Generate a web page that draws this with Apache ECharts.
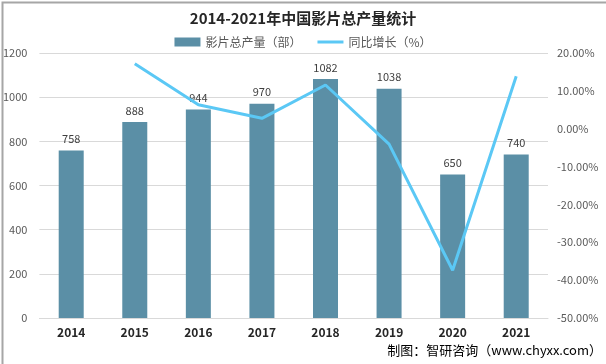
<!DOCTYPE html>
<html><head><meta charset="utf-8">
<script src="https://cdn.jsdelivr.net/npm/echarts@6/dist/echarts.min.js"></script>
<style>html,body{margin:0;padding:0;background:#fff}#c{width:606px;height:364px}</style>
</head><body><div id="c"></div>
<script>
var years = ['2014','2015','2016','2017','2018','2019','2020','2021'];
var output = [758, 888, 944, 970, 1082, 1038, 650, 740];
var growth = [null, 17.15, 6.31, 2.75, 11.55, -4.07, -37.38, 13.85];
var leftTicks = {min: 0, max: 1200, interval: 200};
var rightTicks = {min: -50, max: 20, interval: 10};
var F = '"Noto Sans CJK SC", "Microsoft YaHei", sans-serif';
var chart = echarts.init(document.getElementById('c'));
chart.setOption({
  animation: false,
  textStyle: {fontFamily: F},
  title: {text: '2014-2021年中国影片总产量统计', left: 'center', top: 6,
    textStyle: {fontSize: 15, fontWeight: 'bold', color: '#262626', fontFamily: F}},
  legend: {top: 31, left: 'center', itemGap: 16, itemWidth: 26, itemHeight: 9,
    textStyle: {fontSize: 12, color: '#595959', fontFamily: F},
    data: [{name: '影片总产量（部）', icon: 'rect'},
           {name: '同比增长（%）', icon: 'path://M0,0 L26,0 L26,3 L0,3 Z', itemStyle: {color: '#5bc8f5'}}]},
  grid: {left: 37, right: 58, top: 53, bottom: 46},
  xAxis: {type: 'category', data: years,
    axisLine: {lineStyle: {color: '#d9d9d9'}}, axisTick: {show: false},
    axisLabel: {color: '#262626', fontWeight: 'bold', fontSize: 12, margin: 8, fontFamily: F}},
  yAxis: [
    {type: 'value', min: leftTicks.min, max: leftTicks.max, interval: leftTicks.interval,
      axisLine: {show: false}, axisTick: {show: false},
      splitLine: {lineStyle: {color: '#d9d9d9'}},
      axisLabel: {color: '#595959', fontSize: 11, margin: 12, fontFamily: F,
        formatter: function(v){ return String(v); }}},
    {type: 'value', min: rightTicks.min, max: rightTicks.max, interval: rightTicks.interval,
      axisLine: {show: false}, axisTick: {show: false}, splitLine: {show: false},
      axisLabel: {color: '#595959', fontSize: 11, margin: 9, fontFamily: F,
        formatter: function(v){ return v.toFixed(2) + '%'; }}}
  ],
  series: [
    {name: '影片总产量（部）', type: 'bar', data: output, barWidth: 25,
      itemStyle: {color: '#5b8fa6'},
      label: {show: true, position: 'top', color: '#404040', fontSize: 11, distance: 6, fontFamily: F}},
    {name: '同比增长（%）', type: 'line', yAxisIndex: 1, data: growth,
      showSymbol: false, symbol: 'none', lineStyle: {color: '#5bc8f5', width: 3},
      itemStyle: {color: '#5bc8f5'}}
  ],
  graphic: [
    {type: 'rect', left: 0, top: 0, shape: {width: 605, height: 363},
      style: {fill: 'none', stroke: '#a6a6a6', lineWidth: 2}, silent: true},
    {type: 'text', right: 4, top: 344,
      style: {text: '制图：智研咨询（www.chyxx.com）', fill: '#000', fontSize: 13, fontFamily: F}}
  ]
});
</script></body></html>
